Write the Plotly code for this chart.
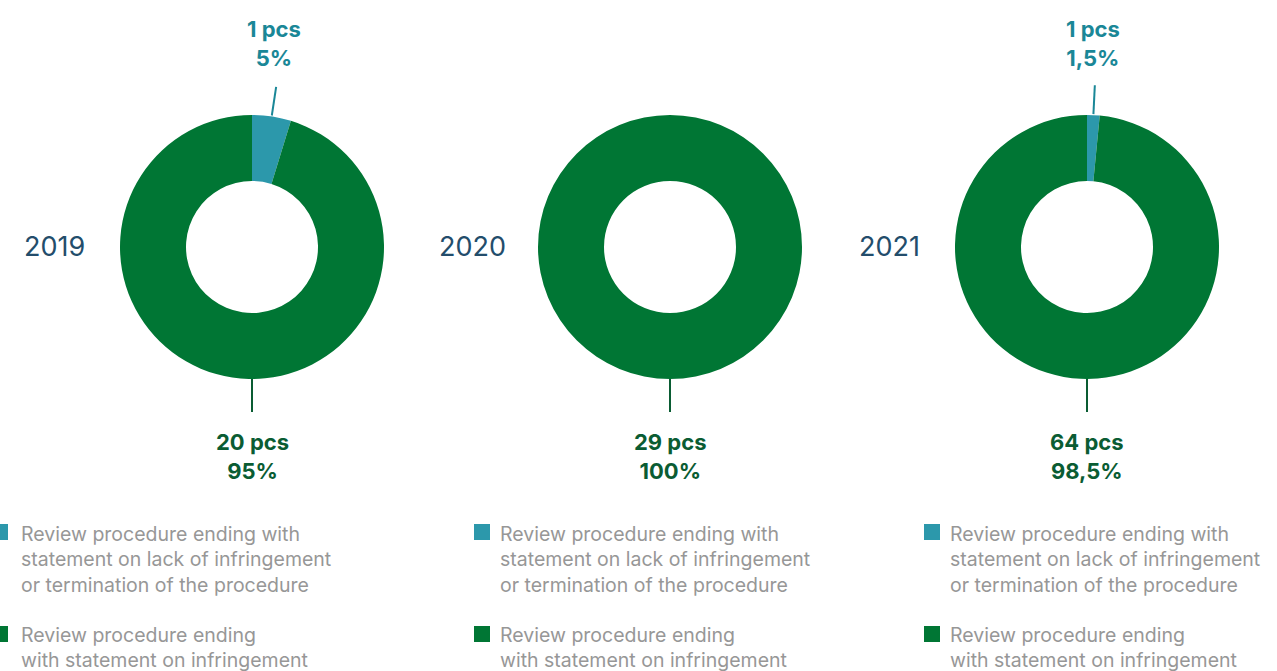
import math
import plotly.graph_objects as go

years = ["2019", "2020", "2021"]
lack_pcs = [1, 0, 1]
infr_pcs = [20, 29, 64]
lack_pct_text = ["5%", "", "1,5%"]
infr_pct_text = ["95%", "100%", "98,5%"]
legend_lack = "Review procedure ending with<br>statement on lack of infringement<br>or termination of the procedure"
legend_infr = "Review procedure ending<br>with statement on infringement"

W, H = 1277, 671
centers_x = [252, 670, 1087]
cy = 247
R = 132
TEAL = "#2c98ab"
GREEN = "#007634"
TEAL_TXT = "#1a8797"
GREEN_TXT = "#0a5c33"
FONT = "Inter"


def px(x):
    return x / W


def py(y):
    return 1 - y / H


fig = go.Figure()
ann = []
shapes = []
for i, y in enumerate(years):
    cx = centers_x[i]
    fig.add_trace(go.Pie(
        values=[lack_pcs[i], infr_pcs[i]],
        labels=["lack", "infringement"],
        marker=dict(colors=[TEAL, GREEN], line=dict(width=0)),
        hole=0.5, sort=False, direction="clockwise", rotation=0,
        textinfo="none", hoverinfo="none", showlegend=False,
        domain=dict(x=[px(cx - R), px(cx + R)], y=[py(cy + R), py(cy - R)]),
    ))
    ann.append(dict(x=px(cx - 198), y=py(cy), xref="paper", yref="paper", text=y,
                    xanchor="center", yanchor="middle",
                    showarrow=False, font=dict(family=FONT, size=27, color="#234d6b")))
    total = lack_pcs[i] + infr_pcs[i]
    if lack_pcs[i] > 0:
        a = math.pi * lack_pcs[i] / total
        x0 = cx + (R + 1) * math.sin(a); y0 = cy - (R + 1) * math.cos(a)
        x1 = cx + (R + 30) * math.sin(a); y1 = cy - (R + 30) * math.cos(a)
        shapes.append(dict(type="line", xref="paper", yref="paper",
                           x0=px(x0), y0=py(y0), x1=px(x1), y1=py(y1),
                           line=dict(color=TEAL_TXT, width=2)))
        ann.append(dict(x=px(x1 - 2), y=py(44), xref="paper", yref="paper",
                        xanchor="center", yanchor="middle",
                        text=f"<b>{lack_pcs[i]} pcs<br>{lack_pct_text[i]}</b>",
                        showarrow=False, font=dict(family=FONT, size=22, color=TEAL_TXT)))
    shapes.append(dict(type="line", xref="paper", yref="paper",
                       x0=px(cx), y0=py(cy + R), x1=px(cx), y1=py(cy + R + 33),
                       line=dict(color=GREEN_TXT, width=2)))
    ann.append(dict(x=px(cx), y=py(456), xref="paper", yref="paper",
                    xanchor="center", yanchor="middle",
                    text=f"<b>{infr_pcs[i]} pcs<br>{infr_pct_text[i]}</b>",
                    showarrow=False, font=dict(family=FONT, size=22, color=GREEN_TXT)))

leg_x = [0, 474, 924]
for lx in leg_x:
    x0s = lx - 8 if lx == 0 else lx
    for (t0, t1, col) in [(524, 540, TEAL), (626, 642, GREEN)]:
        shapes.append(dict(type="rect", xref="paper", yref="paper",
                           x0=px(x0s), x1=px(x0s + 16), y0=py(t1), y1=py(t0),
                           fillcolor=col, line=dict(width=0)))
    tx = 19 if lx == 0 else lx + 24
    ann.append(dict(x=px(tx), y=py(520), xref="paper", yref="paper", xanchor="left", yanchor="top",
                    text=legend_lack, align="left", showarrow=False,
                    font=dict(family=FONT, size=19.5, color="#979797")))
    ann.append(dict(x=px(tx), y=py(621), xref="paper", yref="paper", xanchor="left", yanchor="top",
                    text=legend_infr, align="left", showarrow=False,
                    font=dict(family=FONT, size=19.5, color="#979797")))

fig.update_layout(width=W, height=H, margin=dict(l=0, r=0, t=0, b=0),
                  paper_bgcolor="white", plot_bgcolor="white",
                  annotations=ann, shapes=shapes)
fig.write_html("out.html", config={"displayModeBar": False},
               post_script="document.body.style.margin='0';document.body.style.overflow='hidden';")
